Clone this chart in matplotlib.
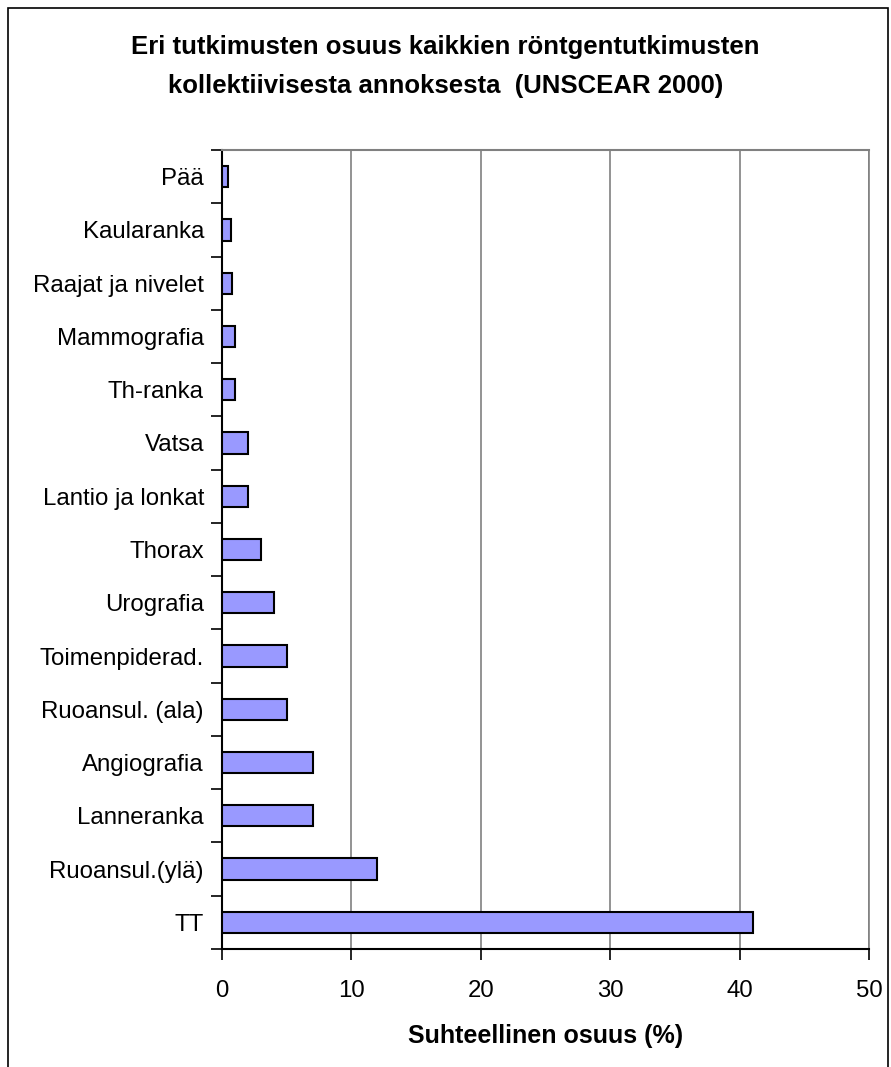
import matplotlib.pyplot as plt
from matplotlib.patches import Rectangle
from matplotlib.ticker import FixedLocator

plt.rcParams['font.family'] = ['Liberation Sans', 'DejaVu Sans']

tutkimukset = ['Pää', 'Kaularanka', 'Raajat ja nivelet', 'Mammografia', 'Th-ranka',
               'Vatsa', 'Lantio ja lonkat', 'Thorax', 'Urografia', 'Toimenpiderad.',
               'Ruoansul. (ala)', 'Angiografia', 'Lanneranka', 'Ruoansul.(ylä)', 'TT']
osuus = [0.5, 0.7, 0.8, 1.0, 1.0, 2, 2, 3, 4, 5, 5, 7, 7, 12, 41]
x_ticks = [0, 10, 20, 30, 40, 50]
title_lines = ['Eri tutkimusten osuus kaikkien röntgentutkimusten',
               'kollektiivisesta annoksesta  (UNSCEAR 2000)']
x_title = 'Suhteellinen osuus (%)'

W, H = 891, 1067
fig = plt.figure(figsize=(W / 100, H / 100), dpi=100)
ax = fig.add_axes([222 / W, 1 - 949 / H, (869 - 222) / W, (949 - 150) / H])

pos = list(range(len(tutkimukset)))
ax.barh(pos, osuus, height=0.4, color='#9999FF', edgecolor='black', linewidth=1.5, zorder=3)

ax.set_xlim(0, 50)
ax.set_ylim(len(tutkimukset) - 0.5, -0.5)
ax.set_xticks(x_ticks)
ax.set_yticks(pos)
ax.set_yticklabels(tutkimukset)
ax.yaxis.set_minor_locator(FixedLocator([p + 0.5 for p in pos[:-1]] + [-0.5, len(pos) - 0.5]))

ax.tick_params(axis='y', which='major', length=0, pad=13, labelsize=17.3)
ax.tick_params(axis='y', which='minor', length=8, width=1.2, direction='out')
ax.tick_params(axis='x', length=8, width=1.2, direction='out', pad=14, labelsize=17.3)

ax.grid(axis='x', color='#808080', linewidth=1.2, zorder=0)
for side in ['left', 'bottom']:
    ax.spines[side].set_linewidth(1.5)
ax.spines['top'].set_color('#808080')
ax.spines['top'].set_linewidth(1.5)
ax.spines['right'].set_color('#808080')
ax.spines['right'].set_linewidth(1.2)

for i, line in enumerate(title_lines):
    fig.text(0.5, 1 - (47 + 39 * i) / H, line, ha='center', va='center',
             fontsize=18.5, fontweight='bold')

ax.set_xlabel(x_title, fontsize=18, fontweight='bold', labelpad=16)

# outer frame around the chart
fig.patches.append(Rectangle((8 / W, -0.05), (888 - 8) / W, 1.05 - 8 / H,
                             transform=fig.transFigure, fill=False,
                             edgecolor='black', linewidth=1.2))

fig.savefig('out.png', dpi=100)
